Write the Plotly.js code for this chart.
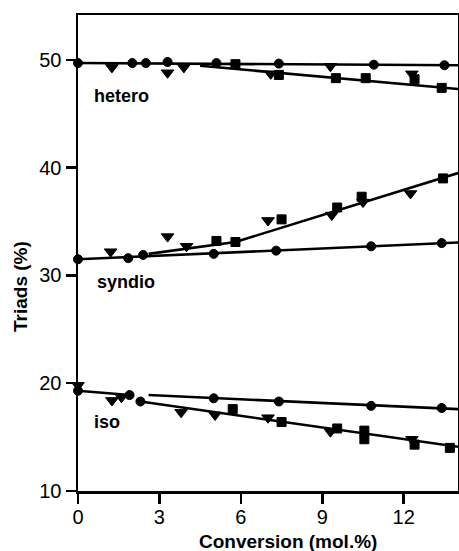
<!DOCTYPE html>
<html>
<head>
<meta charset="utf-8">
<script src="https://cdn.plot.ly/plotly-3.0.1.min.js"></script>
<style>html,body{margin:0;padding:0;background:#fff;}#chart{width:459px;height:551px;}</style>
</head>
<body>
<div id="chart"></div>
<script>
// ---- data ----
// hetero
const heteroCircX = [0, 2.0, 2.5, 3.3, 5.1, 7.4, 10.9, 13.5];
const heteroCircY = [49.7, 49.7, 49.7, 49.8, 49.7, 49.65, 49.55, 49.5];
const heteroTriX  = [1.25, 3.3, 3.9, 7.1, 9.3, 12.3];
const heteroTriY  = [49.3, 48.8, 49.3, 48.7, 49.4, 48.7];
const heteroSqX   = [5.8, 7.4, 9.5, 10.6, 12.4, 13.4];
const heteroSqY   = [49.6, 48.6, 48.3, 48.3, 48.2, 47.4];
const heteroFit1X = [0, 14];
const heteroFit1Y = [49.7, 49.5];
const heteroFit2X = [4.5, 14];
const heteroFit2Y = [49.45, 47.3];
// syndio
const syndCircX = [0, 1.85, 2.4, 5.0, 7.3, 10.8, 13.4];
const syndCircY = [31.5, 31.6, 31.9, 32.0, 32.3, 32.7, 33.0];
const syndTriX  = [1.2, 3.3, 4.0, 7.0, 9.35, 10.5, 12.25];
const syndTriY  = [32.2, 33.6, 32.7, 35.1, 35.6, 36.8, 37.6];
const syndSqX   = [5.1, 5.8, 7.5, 9.55, 10.45, 13.45];
const syndSqY   = [33.2, 33.1, 35.2, 36.3, 37.3, 39.0];
const syndFit1X = [0, 14];
const syndFit1Y = [31.5, 33.05];
const syndFit2X = [2.6, 5.8, 14];
const syndFit2Y = [32.0, 33.1, 39.5];
// iso
const isoCircX = [0, 1.9, 2.3, 5.0, 7.4, 10.8, 13.4];
const isoCircY = [19.3, 18.9, 18.3, 18.6, 18.3, 17.9, 17.7];
const isoTriX  = [0, 1.25, 1.6, 3.8, 5.05, 7.0, 9.3, 12.3];
const isoTriY  = [19.8, 18.4, 18.7, 17.3, 17.05, 16.8, 15.5, 14.8];
const isoSqX   = [5.7, 7.5, 9.55, 10.55, 10.55, 12.4, 13.7];
const isoSqY   = [17.6, 16.4, 15.8, 15.6, 14.8, 14.3, 14.0];
const isoFit1X = [0, 1.9, null, 2.6, 14];
const isoFit1Y = [19.3, 18.9, null, 18.9, 17.6];
const isoFit2X = [2.3, 14];
const isoFit2Y = [18.3, 14.1];

const xTicks = [0, 3, 6, 9, 12];
const yTicks = [10, 20, 30, 40, 50];
const groupLabels = ['hetero', 'syndio', 'iso'];
const labelX = [1.6, 1.77, 1.07];
const labelY = [46.6, 29.4, 16.4];

// ---- drawing ----
const FONT = 'Liberation Sans, Arial, sans-serif';
function line(x, y) {
  return {x: x, y: y, mode: 'lines', type: 'scatter', hoverinfo: 'skip',
    line: {color: '#000', width: 2.6}, connectgaps: false, cliponaxis: true};
}
function pts(x, y, sym, size) {
  return {x: x, y: y, mode: 'markers', type: 'scatter', cliponaxis: false,
    marker: {symbol: sym, size: size, color: '#000', line: {color: '#000', width: 1}}};
}
const traces = [
  line(heteroFit1X, heteroFit1Y), line(heteroFit2X, heteroFit2Y),
  line(syndFit1X, syndFit1Y), line(syndFit2X, syndFit2Y),
  line(isoFit1X, isoFit1Y), line(isoFit2X, isoFit2Y),
  pts(heteroCircX, heteroCircY, 'circle', 9), pts(heteroTriX, heteroTriY, 'triangle-down', 11), pts(heteroSqX, heteroSqY, 'square', 9),
  pts(syndCircX, syndCircY, 'circle', 9), pts(syndTriX, syndTriY, 'triangle-down', 11), pts(syndSqX, syndSqY, 'square', 9),
  pts(isoCircX, isoCircY, 'circle', 9), pts(isoTriX, isoTriY, 'triangle-down', 11), pts(isoSqX, isoSqY, 'square', 9)
];

const annotations = groupLabels.map((t, i) => ({
  x: labelX[i], y: labelY[i], xref: 'x', yref: 'y', text: '<b>' + t + '</b>',
  xanchor: 'center', yanchor: 'middle',
  showarrow: false, font: {family: FONT, size: 18, color: '#000'}
}));
annotations.push({x: 0.553, y: -0.107, xref: 'paper', yref: 'paper', text: '<b>Conversion (mol.%)</b>',
  xanchor: 'center', yanchor: 'middle',
  showarrow: false, font: {family: FONT, size: 19, color: '#000'}});
annotations.push({x: -0.15, y: 0.4286, xref: 'paper', yref: 'paper', text: '<b>Triads (%)</b>', textangle: -90,
  xanchor: 'center', yanchor: 'middle',
  showarrow: false, font: {family: FONT, size: 19, color: '#000'}});

const layout = {
  width: 459, height: 551,
  margin: {l: 78, r: 1, t: 15, b: 60, pad: 0},
  paper_bgcolor: '#fff', plot_bgcolor: '#fff',
  showlegend: false,
  font: {family: FONT, size: 20, color: '#000'},
  xaxis: {range: [0, 14], tickvals: xTicks, ticktext: xTicks.map(String), ticks: 'outside', ticklen: 10, tickwidth: 2.5,
    tickcolor: '#000', showline: true, linewidth: 2.5, linecolor: '#000', mirror: true, showgrid: false, zeroline: false,
    ticklabelstandoff: -4,
    tickfont: {family: FONT, size: 20, color: '#000'}},
  yaxis: {range: [10, 54.16], tickvals: yTicks, ticktext: yTicks.map(String), ticks: 'outside', ticklen: 10, tickwidth: 2.5,
    tickcolor: '#000', showline: true, linewidth: 2.5, linecolor: '#000', mirror: true, showgrid: false, zeroline: false,
    tickfont: {family: FONT, size: 20, color: '#000'}},
  annotations: annotations
};
Plotly.newPlot('chart', traces, layout, {displayModeBar: false, staticPlot: true});
</script>
</body>
</html>
